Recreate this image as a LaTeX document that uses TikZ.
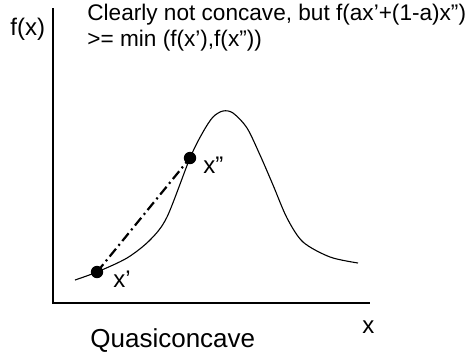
\documentclass[tikz,border=0pt]{standalone}
\usepackage{fontspec}
\setmainfont{Liberation Sans}
\usepackage{tikz}

\begin{document}
\begin{tikzpicture}[x=0.5pt,y=0.5pt,font=\fontsize{12}{13}\selectfont,
  dot/.style={circle,fill=black,inner sep=0pt,minimum size=6.2pt},
  lbl/.style={anchor=base west,inner sep=0pt}]
\useasboundingbox (0,0) rectangle (474,360);
\coordinate (ytop) at (53,352);
\coordinate (xend) at (370,57);
\draw[line width=0.6pt] (ytop) |- (xend);
\node[lbl] (fx) at (10,325) {f(x)};
\node[lbl] (xlab) at (362,27) {x};
\node[lbl,font=\fontsize{13}{14}\selectfont] (qc) at (90,13) {Quasiconcave};
\node[anchor=north west,inner sep=0pt,align=left,font=\fontsize{11.3}{13}\selectfont] (note) at (87,356)
  {Clearly not concave, but f(ax'+(1-a)x'')\\>= min (f(x'),f(x''))};
\draw[line width=0.55pt] plot[smooth,tension=0.5] coordinates {
  (75,80) (97,88) (127,102) (150,120) (167,143) (190,202) (203,228)
  (213,243) (223,249) (233,247) (247,232) (260,205) (273,175)
  (287,142) (303,118) (330,103) (358,97)};
\node[dot] (xa) at (97,88) {};
\node[dot] (xb) at (190,202) {};
\draw[line width=1.1pt,dash pattern=on 5pt off 2pt on 1pt off 2pt] (xa.center) -- (xb.center);
\node[lbl] at (113,73) {x'};
\node[lbl] at (203,187) {x''};
\end{tikzpicture}
\end{document}
